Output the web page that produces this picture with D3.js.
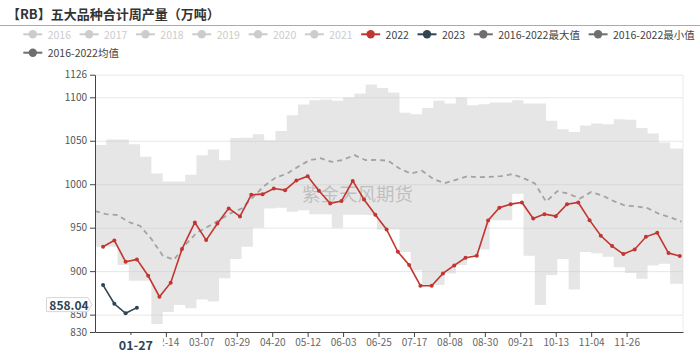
<!DOCTYPE html>
<html><head><meta charset="utf-8">
<script src="https://cdn.jsdelivr.net/npm/d3@7"></script>
<style>
body{margin:0;background:#fff}
svg{display:block}
text{font-family:"Noto Sans CJK SC","Noto Sans",sans-serif}
</style>
</head><body>
<svg id="c" width="700" height="358"></svg>
<script>
const titleText = "【RB】五大品种合计周产量（万吨）";
const watermark = "紫金天风期货";
const legendRow1 = ["2016","2017","2018","2019","2020","2021","2022","2023","2016-2022最大值","2016-2022最小值"];
const legendRow1Colors = ["#cccccc","#cccccc","#cccccc","#cccccc","#cccccc","#cccccc","#c23531","#2f4554","#6e6e6e","#6e6e6e"];
const legendRow2 = ["2016-2022均值"];
const legendRow2Colors = ["#6e6e6e"];

const dates2022 = ["01-06","01-13","01-20","01-27","02-03","02-10","02-17","02-24","03-03","03-10","03-17","03-24","03-31","04-07","04-14","04-21","04-28","05-05","05-12","05-19","05-26","06-02","06-09","06-16","06-23","06-30","07-07","07-14","07-21","07-28","08-04","08-11","08-18","08-25","09-01","09-08","09-15","09-22","09-29","10-06","10-13","10-20","10-27","11-03","11-10","11-17","11-24","12-01","12-08","12-15","12-22","12-29"];
const values2022 = [928,935.4,910.8,913.5,894.7,870.6,886.7,925.4,956,935.7,954.9,972.2,963,987.8,988.6,995.1,993.2,1004.3,1009.3,992.5,977.9,980.6,1003.8,982.5,964.9,948,922.3,907,883.2,883.2,897.4,906.6,915.4,917.7,958.4,972.9,977.1,979,960.5,965.6,963.3,977.1,979,958.7,940.7,928.9,919.7,925,939.5,944.1,920.8,917.4];

const dates2023 = ["01-06","01-13","01-20","01-27"];
const values2023 = [884,862.5,851.5,858.04];

const bandDates = ["01-01","01-08","01-15","01-22","01-29","02-05","02-12","02-19","02-26","03-04","03-11","03-18","03-25","04-01","04-08","04-15","04-22","04-29","05-06","05-13","05-20","05-27","06-03","06-10","06-17","06-24","07-01","07-08","07-15","07-22","07-29","08-05","08-12","08-19","08-26","09-02","09-09","09-16","09-23","09-30","10-07","10-14","10-21","10-28","11-04","11-11","11-18","11-25","12-02","12-09","12-16","12-23","12-30"];
const maxValues = [1045,1051.5,1051.5,1046,1031.6,1012.4,1003,1003,1011,1033.4,1040,1027.7,1053.3,1053.5,1057.6,1050.7,1061.2,1079.4,1091.7,1096.6,1097.5,1095.9,1099.8,1104.4,1114.7,1110.8,1105.5,1082.1,1080.6,1087.8,1095.9,1092.8,1099.8,1090.9,1092.1,1094,1094,1096.6,1092.8,1092.8,1072.9,1063.3,1060.2,1067.5,1069.8,1069,1074.8,1074.2,1064.6,1058.4,1048,1041,1041];
const minValues = [928,928,907,889,889,839.2,853,861,857.2,867.5,865,891.7,914,928,950,972,973,968.3,970,965.6,965.5,950,965,965,964.5,948,948,922,901,884,884,897.4,907,918,925,958.7,958.7,989,917.7,861,895.5,913.9,879,922,920.5,916.6,904.5,898,891.4,906.6,908.5,885.6,885.6];
const meanValues = [969,965.5,964.5,956.5,952,937,918,913,930,944,951,958.5,966.5,972,985,998,1007.5,1012,1020,1027.5,1030,1025.7,1028,1033.5,1027.7,1028,1027,1018,1012.4,1015.5,1006,1001.3,1005,1009,1008,1008.5,1009.2,1011.6,1007,1001,980,992,989,983.5,991,987,980.5,975.5,974.5,972.5,966,962,957];

const yTicks = [830,850,900,950,1000,1050,1100,1126];
const xTickLabels = ["01-23","02-14","03-07","03-29","04-20","05-12","06-03","06-25","07-17","08-08","08-30","09-21","10-13","11-04","11-26"];
const pointerDate = "01-27";
const pointerValue = 858.04;

const pLeft = 95, pRight = 683, pTop = 74.7, pBottom = 332;
const days = d3.timeDay.range(new Date(2020,0,1), new Date(2021,0,1)).map(d3.timeFormat("%m-%d"));
const x = d3.scalePoint().domain(days).range([pLeft, pRight]);
const y = d3.scaleLinear().domain([830, 1126]).range([pBottom, pTop]);
const svg = d3.select("#c");

// title
svg.append("text").attr("x", 7).attr("y", 18.8).attr("font-size", 13).attr("font-weight", "bold")
  .attr("fill", "#333").text(titleText);
svg.append("line").attr("x1", 0).attr("x2", 700).attr("y1", 25.5).attr("y2", 25.5)
  .attr("stroke", "#aaa").attr("stroke-width", 1);

// legend
function legendRow(names, colors, x0, yc) {
  let xx = x0;
  names.forEach((n, i) => {
    const c = colors[i];
    const active = c !== "#cccccc";
    svg.append("line").attr("x1", xx).attr("x2", xx + 19).attr("y1", yc).attr("y2", yc)
      .attr("stroke", c).attr("stroke-width", 2);
    svg.append("circle").attr("cx", xx + 9.5).attr("cy", yc).attr("r", 4.2).attr("fill", c);
    const t = svg.append("text").attr("x", xx + 24.4).attr("y", yc).attr("dominant-baseline", "central")
      .attr("font-size", 10.5).attr("fill", active ? "#444" : "#ccc").text(n);
    xx = xx + 24.4 + t.node().getComputedTextLength() + 8.6;
  });
}
legendRow(legendRow1, legendRow1Colors, 23.3, 34.3);
legendRow(legendRow2, legendRow2Colors, 23.3, 52.7);

// grid
svg.append("g").attr("transform", `translate(${pLeft},0)`)
  .call(d3.axisLeft(y).tickValues(yTicks.filter(v => v !== 830)).tickSize(-(pRight - pLeft)).tickFormat(""))
  .call(g => { g.select(".domain").remove(); g.selectAll("line").attr("stroke", "#e6e6e6"); });
svg.append("line").attr("x1", pRight).attr("x2", pRight).attr("y1", pTop).attr("y2", pBottom).attr("stroke", "#ececec");

// band (max/min)
const bandPts = bandDates.map((d, i) => ({ d, hi: maxValues[i], lo: minValues[i] }));
bandPts.push({ d: "12-31", hi: maxValues[maxValues.length - 1], lo: minValues[minValues.length - 1] });
svg.append("path").datum(bandPts)
  .attr("d", d3.area().curve(d3.curveStepAfter).x(p => x(p.d)).y0(p => y(p.lo)).y1(p => y(p.hi)))
  .attr("fill", "rgb(200,200,200)").attr("fill-opacity", 0.45);

// watermark
svg.append("text").attr("x", 302).attr("y", 193).attr("dominant-baseline", "central")
  .attr("font-size", 18.5).attr("fill", "#999").attr("fill-opacity", 0.5).text(watermark);

// mean
svg.append("path").datum(bandDates.map((d, i) => [d, meanValues[i]]))
  .attr("d", d3.line().x(p => x(p[0])).y(p => y(p[1])))
  .attr("fill", "none").attr("stroke", "#a3a3a3").attr("stroke-width", 1.8).attr("stroke-dasharray", "5,4");

// series
function series(dates, vals, color) {
  const pts = dates.map((d, i) => [d, vals[i]]);
  svg.append("path").datum(pts).attr("d", d3.line().x(p => x(p[0])).y(p => y(p[1])))
    .attr("fill", "none").attr("stroke", color).attr("stroke-width", 1.6);
  svg.append("g").selectAll("circle").data(pts).join("circle")
    .attr("cx", p => x(p[0])).attr("cy", p => y(p[1])).attr("r", 2).attr("fill", color);
}
series(dates2022, values2022, "#c23531");
series(dates2023, values2023, "#2f4554");

// axes
const ya = svg.append("g").attr("transform", `translate(${pLeft},0)`)
  .call(d3.axisLeft(y).tickValues(yTicks).tickFormat(d3.format("d")).tickSize(5).tickSizeOuter(0).tickPadding(3));
ya.selectAll("text").attr("font-size", 10).attr("fill", "#555").attr("font-family", '"Noto Sans CJK SC",sans-serif');
ya.selectAll("line").attr("stroke", "#444");
ya.select(".domain").attr("stroke", "#444");

// x axis: the first tick's label sits under the axis-pointer label, so only its tick mark shows
const xa = svg.append("g").attr("transform", `translate(0,${pBottom})`)
  .call(d3.axisBottom(x).tickValues(xTickLabels).tickFormat((d, i) => i === 0 ? "" : d)
    .tickSize(5).tickSizeOuter(0).tickPadding(2));
xa.selectAll("text").attr("font-size", 10).attr("fill", "#666").attr("font-family", '"Noto Sans CJK SC",sans-serif');
xa.selectAll("line").attr("stroke", "#444");
xa.select(".domain").attr("stroke", "#444");

// axis pointer labels
const px = x(pointerDate);
svg.append("rect").attr("x", px - 27).attr("y", 335).attr("width", 53).attr("height", 19).attr("fill", "#fff");
svg.append("text").attr("x", px - 1).attr("y", 344).attr("text-anchor", "middle").attr("dominant-baseline", "central")
  .attr("font-size", 12.5).attr("font-weight", "bold").attr("fill", "#2f4554").text(pointerDate);

const py = y(pointerValue) - 3;
svg.append("path")
  .attr("d", `M46.5,${py - 7}H88L92,${py}L88,${py + 7}H46.5Z`)
  .attr("fill", "#fff").attr("stroke", "#d6d6d6").attr("stroke-width", 1);
svg.append("text").attr("x", 69).attr("y", py).attr("text-anchor", "middle").attr("dominant-baseline", "central")
  .attr("font-size", 12).attr("font-weight", "bold").attr("fill", "#2f4554").text(d3.format(".2f")(pointerValue));
</script>
</body></html>
